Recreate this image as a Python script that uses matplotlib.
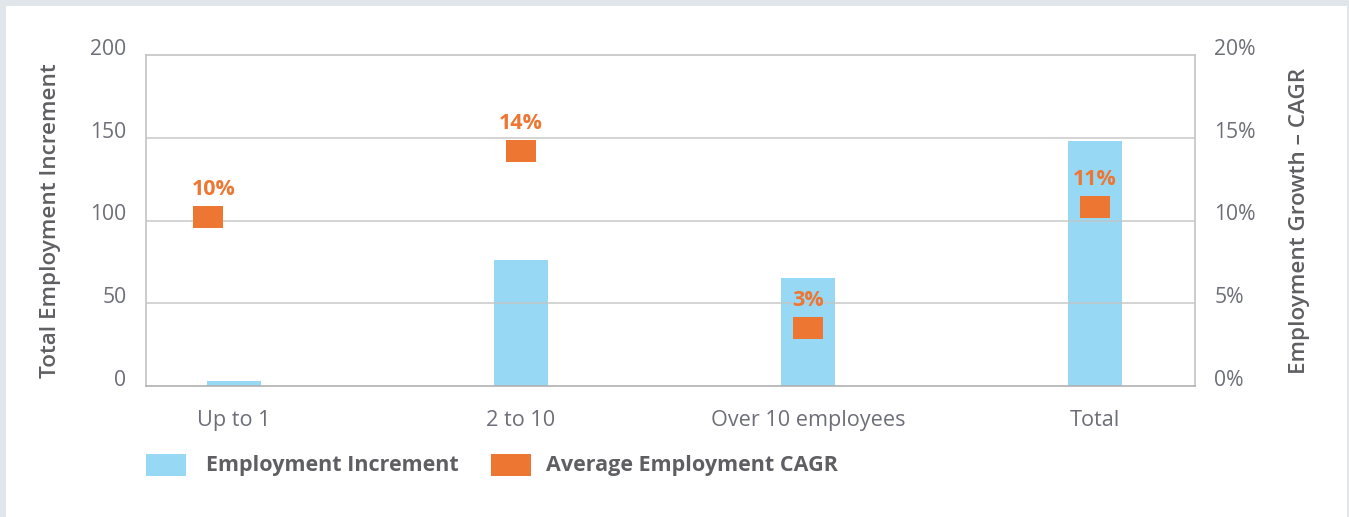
import matplotlib.pyplot as plt
import matplotlib.transforms as mtransforms
from matplotlib.patches import Rectangle
from matplotlib.ticker import FuncFormatter

# data
categories = ['Up to 1', '2 to 10', 'Over 10 employees', 'Total']
increment = [3, 76, 65, 148]
cagr = [10.2, 14.2, 3.5, 10.8]
cagr_labels = ['10%', '14%', '3%', '11%']

blue = '#97d9f5'
orange = '#ee7633'
tick_col = '#6d6e78'
lab_col = '#5f5f63'
grid_col = '#c4c4c4'

plt.rcParams['font.family'] = ['Open Sans', 'DejaVu Sans']

W, H = 1349, 517
fig = plt.figure(figsize=(W / 100, H / 100), dpi=100)
fig.patch.set_facecolor('#e1e6ea')
fig.patches.append(Rectangle((6 / W, 0), (W - 8) / W, (H - 6) / H,
                             transform=fig.transFigure, facecolor='white',
                             edgecolor='none', zorder=-5))

ax = fig.add_axes([146 / W, (H - 386) / H, 1049 / W, 331 / H])
ax.set_facecolor('none')
x = list(range(len(categories)))
ax.bar(x, increment, width=0.185, color=blue, zorder=1)
ax.set_xlim(-88 / 287, 3 + 100 / 287)
ax.set_ylim(0, 200)
ax.set_yticks([0, 50, 100, 150, 200])
for y in [50, 100, 150]:
    ax.axhline(y, color=grid_col, lw=1.2, alpha=0.85, zorder=2)
for side in ax.spines.values():
    side.set_color(grid_col)
    side.set_linewidth(1.2)
ax.spines['bottom'].set_color('#b0b0b0')
ax.set_xticks(x)
ax.set_xticklabels(categories, fontsize=15.6, color=tick_col)
ax.tick_params(axis='x', length=0, pad=17)
ax.tick_params(axis='y', length=0, pad=14, labelsize=15.2, labelcolor=tick_col)
ax.set_ylabel('Total Employment Increment', fontsize=16.2, color=lab_col,
              fontweight='semibold', labelpad=21)

ax2 = ax.twinx()
ax2.set_ylim(0, 20)
ax2.set_yticks([0, 5, 10, 15, 20])
ax2.yaxis.set_major_formatter(FuncFormatter(lambda v, p: f'{v:.0f}%'))
ax2.tick_params(axis='y', length=0, pad=14, labelsize=15.2, labelcolor=tick_col)
for side in ax2.spines.values():
    side.set_visible(False)
ax2.set_ylabel('Employment Growth \u2013 CAGR', fontsize=16.2, color=lab_col,
               fontweight='semibold', labelpad=24)

# the first marker sits left of its bar in the reference
nudge = mtransforms.ScaledTranslation(-26 / 100, 0, fig.dpi_scale_trans)
rect = [(-1, -0.72), (1, -0.72), (1, 0.72), (-1, 0.72), (-1, -0.72)]
ax2.plot(x[:1], cagr[:1], linestyle='none', marker=rect, markersize=22,
         color=orange, markeredgewidth=0, zorder=3,
         transform=ax2.transData + nudge)
ax2.plot(x[1:], cagr[1:], linestyle='none', marker=rect, markersize=22,
         color=orange, markeredgewidth=0, zorder=3)
for i, (xi, yi, t) in enumerate(zip(x, cagr, cagr_labels)):
    dx = -15 if i == 0 else 0
    ax2.annotate(t, (xi, yi), xytext=(dx, 20), textcoords='offset points',
                 ha='center', va='center', fontsize=15.5, fontweight='bold',
                 color=orange)

# tick labels sit a little above their gridlines
shift = mtransforms.ScaledTranslation(0, 8 / 100, fig.dpi_scale_trans)
for lbl in ax.get_yticklabels() + ax2.get_yticklabels():
    lbl.set_transform(lbl.get_transform() + shift)

# legend
fig.patches.append(Rectangle((146 / W, (H - 476) / H), 40 / W, 22 / H,
                             transform=fig.transFigure, facecolor=blue))
fig.text(206 / W, (H - 465) / H, 'Employment Increment', fontsize=15.5,
         fontweight='bold', color=lab_col, va='center')
fig.patches.append(Rectangle((491 / W, (H - 476) / H), 40 / W, 22 / H,
                             transform=fig.transFigure, facecolor=orange))
fig.text(546 / W, (H - 465) / H, 'Average Employment CAGR', fontsize=15.5,
         fontweight='bold', color=lab_col, va='center')

fig.savefig('out.png', dpi=100, facecolor=fig.get_facecolor())
